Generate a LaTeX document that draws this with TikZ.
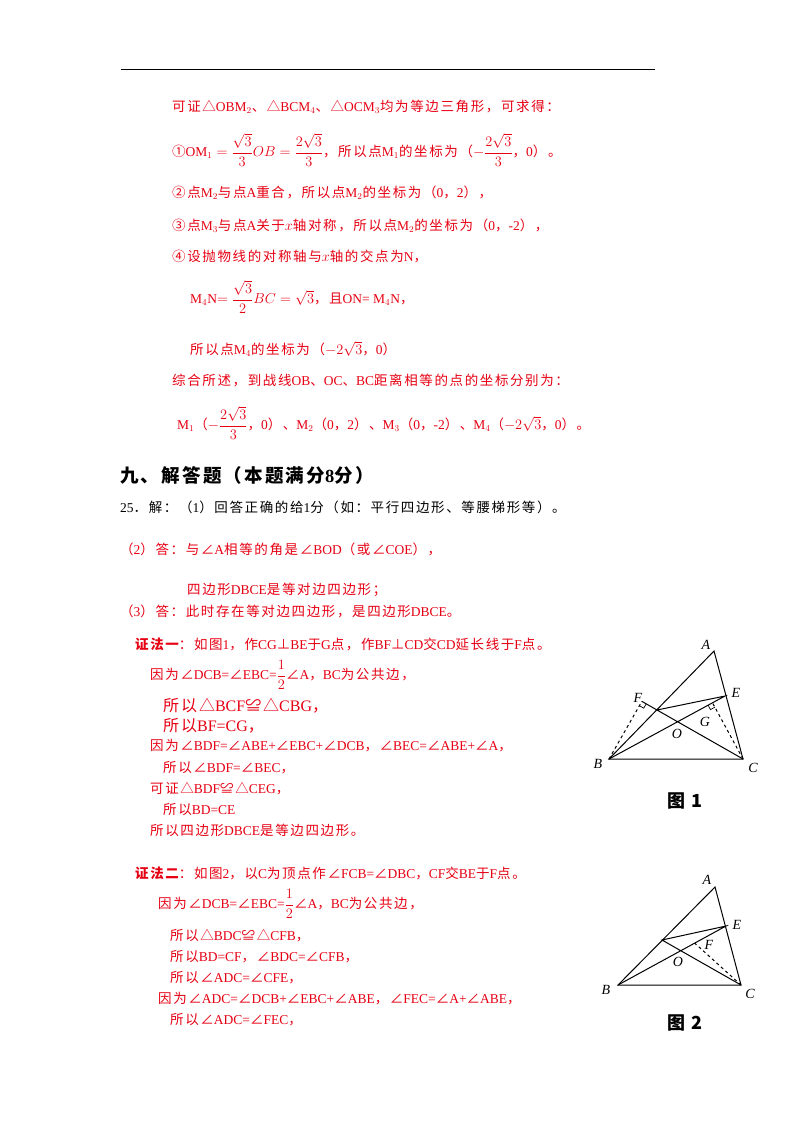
\documentclass[tikz,border=0pt]{standalone}
\usepackage{amsmath}
\usepackage{fontspec}
\usetikzlibrary{calc}
\setmainfont{Liberation Serif}
\newfontfamily\cjk{Noto Sans CJK SC}[LetterSpace=12]
\newfontfamily\lat{Liberation Serif}
\newfontfamily\hei{Noto Sans CJK SC}[BoldFont={* Bold}]
\makeatletter
\XeTeXinterchartokenstate=1
\newXeTeXintercharclass\cjkclass
\count@="4E00 \loop\XeTeXcharclass\count@=\cjkclass\ifnum\count@<"9FFF\advance\count@ 1 \repeat
\count@="3000 \loop\XeTeXcharclass\count@=\cjkclass\ifnum\count@<"303F\advance\count@ 1 \repeat
\count@="FF00 \loop\XeTeXcharclass\count@=\cjkclass\ifnum\count@<"FF60\advance\count@ 1 \repeat
\count@="2460 \loop\XeTeXcharclass\count@=\cjkclass\ifnum\count@<"2473\advance\count@ 1 \repeat
\XeTeXcharclass"2220=\cjkclass \XeTeXcharclass"22A5=\cjkclass
\XeTeXcharclass"224C=\cjkclass \XeTeXcharclass"25B3=\cjkclass
\makeatother
\XeTeXinterchartoks 0 \cjkclass = {\cjk}
\XeTeXinterchartoks 4095 \cjkclass = {\cjk}
\XeTeXinterchartoks \cjkclass 0 = {\lat}
\definecolor{rd}{RGB}{230,0,18}
\tikzset{t/.style={anchor=west,inner sep=0pt,font=\fontsize{13.5}{15}\selectfont},
 r/.style={t,text=rd}, ln/.style={line width=1pt}, lb/.style={font=\fontsize{14}{15}\selectfont\itshape}}
\begin{document}
\begin{tikzpicture}[x=1pt,y=-1pt]
\useasboundingbox (0,0) rectangle (800,1132);
\coordinate (r1) at (121,70); \coordinate (r2) at (655,70);
\draw[line width=1pt] (r1) -- (r2);
\node[r] (l1) at (172,107) {可证△OBM$_2$、△BCM$_4$、△OCM$_3$均为等边三角形，可求得：};
\node[r] (l2) at (172,150) {①OM$_1=\dfrac{\sqrt3}{3}OB=\dfrac{2\sqrt3}{3}$，所以点M$_1$的坐标为（$-\dfrac{2\sqrt3}{3}$，0）。};
\node[r] (l3) at (172,193) {②点M$_2$与点A重合，所以点M$_2$的坐标为（0，2），};
\node[r] (l4) at (172,226) {③点M$_3$与点A关于$x$轴对称，所以点M$_2$的坐标为（0，-2），};
\node[r] (l5) at (172,256) {④设抛物线的对称轴与$x$轴的交点为N，};
\node[r] (l6) at (190,297) {M$_4$N$=\dfrac{\sqrt3}{2}BC=\sqrt3$，且ON= M$_4$N，};
\node[r] (l7) at (190,349) {所以点M$_4$的坐标为（$-2\sqrt3$，0）};
\node[r] (l8) at (172,381) {综合所述，到战线OB、OC、BC距离相等的点的坐标分别为：};
\node[r] (l9) at (177,423) {M$_1$（$-\dfrac{2\sqrt3}{3}$，0）、M$_2$（0，2）、M$_3$（0，-2）、M$_4$（$-2\sqrt3$，0）。};
\node[t,font=\fontsize{18.5}{20}\selectfont\bfseries] (h) at (120,475) {九、解答题（本题满分8分）};
\node[t] (p1) at (120,507) {25．解：（1）回答正确的给1分（如：平行四边形、等腰梯形等）。};
\node[r] (p2) at (120,549) {（2）答：与∠A相等的角是∠BOD（或∠COE），};
\node[r] (p3) at (187,590) {四边形DBCE是等对边四边形；};
\node[r] (p4) at (120,611) {（3）答：此时存在等对边四边形，是四边形DBCE。};
\node[r] (a1) at (135,644) {{\hei\bfseries 证法一}：如图1，作CG⊥BE于G点，作BF⊥CD交CD延长线于F点。};
\node[r] (a2) at (150,675) {因为∠DCB=∠EBC=$\dfrac12$∠A，BC为公共边，};
\node[r,font=\fontsize{16}{17}\selectfont] (a3) at (163,706) {所以△BCF≌△CBG，};
\node[r,font=\fontsize{16}{17}\selectfont] (a4) at (163,726) {所以BF=CG，};
\node[r] (a5) at (150,746) {因为∠BDF=∠ABE+∠EBC+∠DCB，∠BEC=∠ABE+∠A，};
\node[r] (a6) at (163,768) {所以∠BDF=∠BEC，};
\node[r] (a7) at (150,789) {可证△BDF≌△CEG，};
\node[r] (a8) at (163,809) {所以BD=CE};
\node[r] (a9) at (150,830) {所以四边形DBCE是等边四边形。};
\node[r] (b1) at (135,873) {{\hei\bfseries 证法二}：如图2，以C为顶点作∠FCB=∠DBC，CF交BE于F点。};
\node[r] (b2) at (158,904) {因为∠DCB=∠EBC=$\dfrac12$∠A，BC为公共边，};
\node[r] (b3) at (170,936) {所以△BDC≌△CFB，};
\node[r] (b4) at (170,957) {所以BD=CF，∠BDC=∠CFB，};
\node[r] (b5) at (170,978) {所以∠ADC=∠CFE，};
\node[r] (b6) at (158,999) {因为∠ADC=∠DCB+∠EBC+∠ABE，∠FEC=∠A+∠ABE，};
\node[r] (b7) at (170,1020) {所以∠ADC=∠FEC，};
% figure 1
\coordinate (A) at (714,651); \coordinate (B) at (609,759); \coordinate (C) at (743,759);
\coordinate (E) at (725,696); \coordinate (D) at (657,710);
\coordinate (O) at (intersection of B--E and C--D);
\coordinate (F) at ($(C)!(B)!(D)$); \coordinate (G) at ($(B)!(C)!(E)$);
\draw[ln] (A)--(B)--(C)--cycle; \draw[ln] (B)--(E)--(D)--(C); \draw[ln] (D)--(F);
\draw[ln,dashed] (B)--(F); \draw[ln,dashed] (C)--(G);
\draw[line width=0.7pt] ($(F)!5pt!(D)$) -- ($(F)!5pt!(D)+(F)!5pt!(B)-(F)$) -- ($(F)!5pt!(B)$);
\draw[line width=0.7pt] ($(G)!5pt!(B)$) -- ($(G)!5pt!(B)+(G)!5pt!(C)-(G)$) -- ($(G)!5pt!(C)$);
\node[lb] (nA) at (706,645) {A}; \node[lb] (nB) at (598,764) {B}; \node[lb] (nC) at (753,768) {C};
\node[lb] (nE) at (736,693) {E}; \node[lb] (nF) at (638,698) {F}; \node[lb] (nG) at (705,722) {G};
\node[lb] (nO) at (677,734) {O};
\node (f1) at (685,801) {\fontsize{18}{19}\selectfont\hei\bfseries 图 1};
% figure 2
\coordinate (A2) at (715,887); \coordinate (B2) at (618,985); \coordinate (C2) at (741,985);
\coordinate (E2) at (726,926); \coordinate (D2) at (662,940);
\coordinate (O2) at (intersection of B2--E2 and C2--D2);
\coordinate (F2) at ($(B2)!0.71!(E2)$);
\draw[ln] (A2)--(B2)--(C2)--cycle; \draw[ln] (B2)--(E2)--(D2)--(C2);
\draw[ln,dashed] (C2)--(F2);
\node[lb] (mA) at (707,880) {A}; \node[lb] (mB) at (606,990) {B}; \node[lb] (mC) at (750,994) {C};
\node[lb] (mE) at (737,925) {E}; \node[lb] (mF) at (709,945) {F}; \node[lb] (mO) at (678,962) {O};
\node (f2) at (685,1023) {\fontsize{18}{19}\selectfont\hei\bfseries 图 2};
\end{tikzpicture}
\end{document}
